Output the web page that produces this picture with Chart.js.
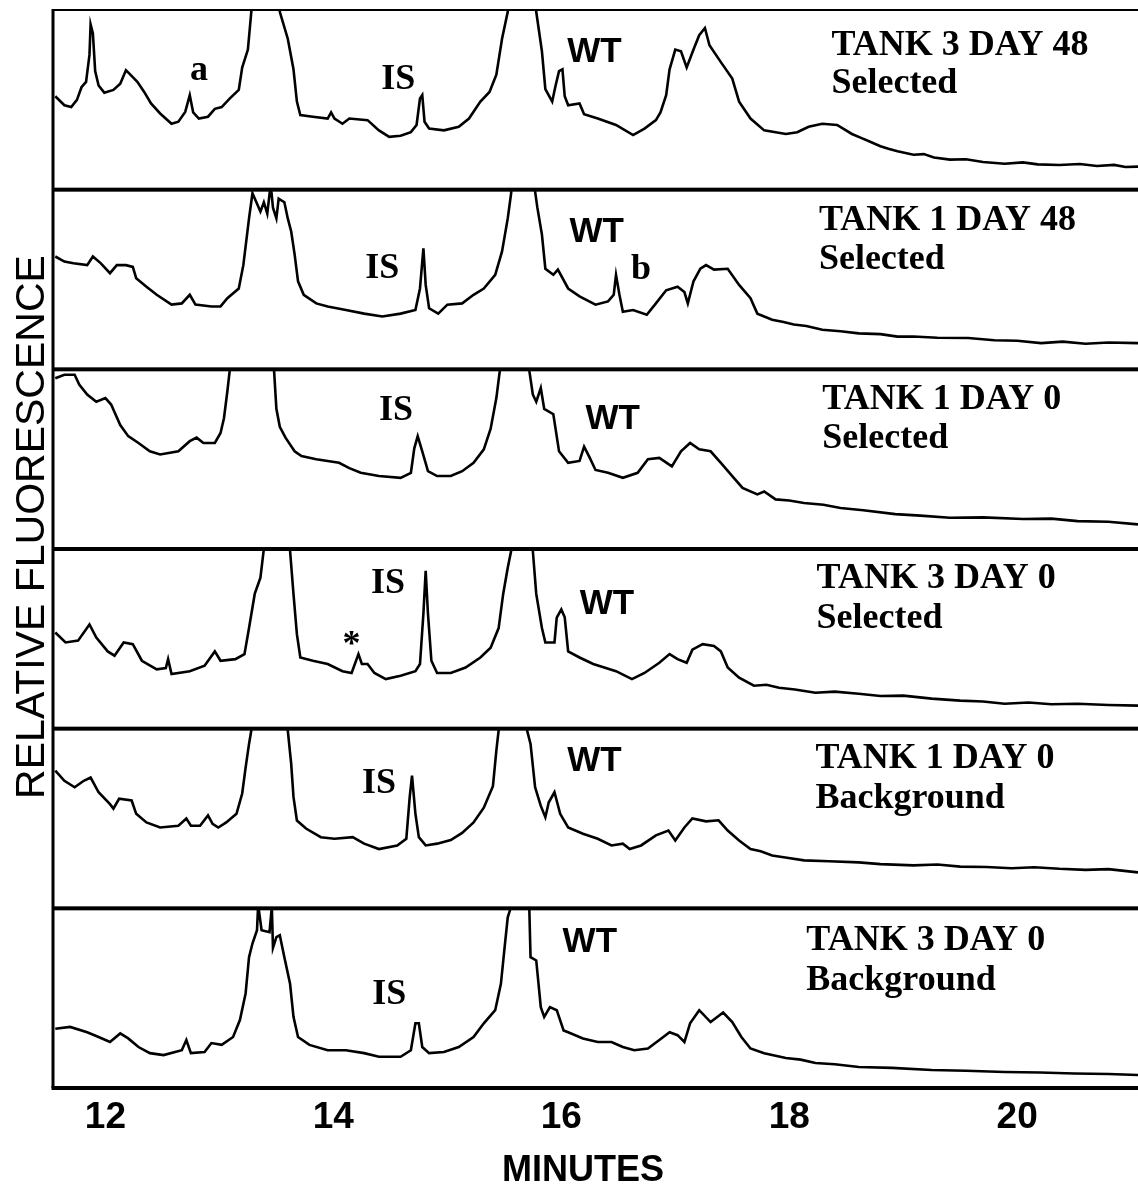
<!DOCTYPE html>
<html>
<head>
<meta charset="utf-8">
<title>Relative fluorescence chromatograms</title>
<script src="https://cdn.jsdelivr.net/npm/chart.js@4.4.1/dist/chart.umd.min.js"></script>
<style>
  html, body { margin: 0; padding: 0; background: #fff; }
  #chart-box { position: relative; width: 1138px; height: 1186px; }
</style>
</head>
<body>
<div id="chart-box"><canvas id="traces" width="1138" height="1186"></canvas></div>
<script>
// Time axis, minutes
const xMin = 11.54;
const xMax = 21.06;
const xTicks = [12, 14, 16, 18, 20];

// Panel captions, top to bottom
const panelTitles = ['TANK 3 DAY 48', 'TANK 1 DAY 48', 'TANK 1 DAY 0', 'TANK 3 DAY 0', 'TANK 1 DAY 0', 'TANK 3 DAY 0'];
const panelSubtitles = ['Selected', 'Selected', 'Selected', 'Selected', 'Background', 'Background'];
const titleStart = [18.37, 18.26, 18.29, 18.24, 18.23, 18.15];   // minutes (left edge of caption)
const titleLine1 = [75, 77.8, 77.8, 78.3, 78.3, 76.7];              // baseline, panel units
const titleLine2 = [54, 56, 56, 56, 56, 54.4];

// Chromatograms: [minutes, relative fluorescence], each panel scaled 0-100
const tank3Day48Selected = [
  [11.56, 52], [11.64, 47], [11.70, 46], [11.75, 50], [11.79, 57], [11.83, 60], [11.86, 75], [11.87, 92],
  [11.89, 87], [11.91, 66], [11.94, 58], [11.99, 54], [12.07, 55.5], [12.13, 59], [12.18, 66.5], [12.21, 64.6],
  [12.28, 60], [12.34, 54.4], [12.40, 48], [12.48, 42.4], [12.58, 36.7], [12.64, 37.8], [12.70, 43.3], [12.74, 52.6],
  [12.77, 43], [12.82, 39.6], [12.90, 40.6], [12.96, 45], [13.02, 46], [13.09, 50.7], [13.17, 55.5], [13.20, 68],
  [13.25, 78], [13.28, 99], [13.40, 400], [13.53, 99], [13.60, 84], [13.65, 67], [13.68, 49], [13.71, 41.5],
  [13.82, 40.6], [13.95, 39.6], [13.98, 43], [14.01, 39.6], [14.08, 36.7], [14.14, 39.6], [14.30, 38.7], [14.40, 33],
  [14.49, 29.4], [14.59, 30], [14.68, 32], [14.73, 36], [14.76, 50.7], [14.78, 52.6], [14.80, 37.8], [14.84, 34],
  [14.97, 33], [15.10, 35], [15.19, 39.6], [15.29, 49], [15.37, 54.4], [15.43, 64], [15.48, 84], [15.53, 99],
  [15.65, 400], [15.78, 99], [15.83, 77], [15.86, 56], [15.92, 49], [15.95, 58], [15.98, 66], [16.01, 67],
  [16.03, 52], [16.06, 47], [16.16, 48], [16.20, 42], [16.32, 39.6], [16.48, 36], [16.63, 30.4], [16.73, 34],
  [16.83, 38.7], [16.87, 43], [16.92, 52.6], [16.95, 67], [17.00, 78], [17.05, 77], [17.10, 68], [17.16, 78],
  [17.21, 86], [17.26, 90], [17.30, 80.4], [17.40, 71], [17.50, 61.8], [17.56, 49], [17.66, 39.6], [17.78, 33],
  [17.97, 31], [18.07, 32], [18.17, 35], [18.29, 36.7], [18.42, 36], [18.55, 31], [18.63, 28.8], [18.71, 26.7],
  [18.80, 24.2], [18.87, 22.8], [18.95, 21.4], [19.09, 19.4], [19.18, 19.8], [19.27, 17.9], [19.41, 16.7], [19.55, 16.9],
  [19.70, 15.4], [19.89, 14.4], [20.05, 15.2], [20.18, 14.1], [20.37, 13.7], [20.55, 14.3], [20.70, 13.2], [20.85, 13.8],
  [20.95, 12.6], [21.06, 12.8]
];

const tank1Day48Selected = [
  [11.56, 62.8], [11.64, 60], [11.72, 59], [11.84, 58], [11.89, 62.8], [11.96, 59], [12.04, 53.5], [12.10, 58],
  [12.18, 58], [12.24, 57], [12.27, 50.7], [12.36, 46], [12.45, 41.5], [12.58, 36], [12.67, 36.7], [12.74, 41.5],
  [12.79, 36], [12.93, 35], [13.01, 35], [13.07, 39.6], [13.17, 45], [13.21, 58], [13.26, 84], [13.29, 98],
  [13.36, 87.8], [13.39, 93], [13.42, 86.7], [13.45, 103], [13.47, 90], [13.50, 84], [13.52, 95], [13.57, 93],
  [13.60, 84], [13.63, 76.7], [13.66, 64], [13.69, 49], [13.74, 41.5], [13.85, 36.7], [13.95, 35], [14.11, 33],
  [14.27, 31], [14.43, 29.4], [14.59, 31], [14.72, 33], [14.76, 45], [14.79, 67.4], [14.81, 47], [14.84, 34],
  [14.92, 31], [15.00, 36], [15.13, 36.7], [15.23, 41.5], [15.32, 45], [15.42, 52.6], [15.48, 65.6], [15.53, 84],
  [15.56, 98], [15.66, 400], [15.77, 99], [15.79, 90], [15.83, 75], [15.86, 56], [15.93, 52.6], [15.97, 55.5],
  [16.06, 45], [16.16, 40.6], [16.30, 36], [16.41, 37.8], [16.46, 41.5], [16.48, 52.6], [16.51, 41.5], [16.54, 32],
  [16.63, 33], [16.75, 30.4], [16.83, 36.7], [16.92, 44], [17.02, 46], [17.08, 43], [17.11, 36.7], [17.16, 49],
  [17.22, 56], [17.27, 58], [17.34, 55.5], [17.46, 56], [17.56, 47], [17.66, 39.6], [17.72, 31], [17.85, 27.6],
  [17.95, 26.4], [18.04, 25], [18.15, 24.1], [18.29, 22], [18.45, 21.2], [18.61, 20], [18.80, 19.6], [18.95, 18.2],
  [19.09, 18.3], [19.30, 17.6], [19.57, 17.4], [19.80, 16.2], [20.00, 15.9], [20.21, 14.6], [20.40, 15.4], [20.60, 14.2],
  [20.80, 14.9], [21.06, 14.6]
];

const tank1Day0Selected = [
  [11.56, 95], [11.64, 97], [11.73, 97], [11.77, 91.5], [11.84, 86], [11.92, 82], [12.00, 84], [12.05, 80.4],
  [12.13, 69], [12.20, 62.8], [12.29, 59], [12.39, 54.4], [12.48, 52.6], [12.64, 54.4], [12.74, 60], [12.80, 62],
  [12.86, 59], [12.96, 59], [13.01, 64.6], [13.04, 72.8], [13.07, 87.8], [13.09, 99], [13.28, 400], [13.48, 99],
  [13.50, 78], [13.53, 68], [13.58, 62], [13.66, 54.4], [13.72, 51.7], [13.85, 50], [14.05, 48], [14.14, 45],
  [14.24, 42.4], [14.40, 40.6], [14.59, 39.6], [14.68, 42.4], [14.71, 56], [14.74, 62.8], [14.78, 54.4], [14.83, 43.3],
  [14.91, 40.6], [15.03, 40.6], [15.13, 43.3], [15.23, 48], [15.32, 55.5], [15.38, 67], [15.43, 84], [15.46, 99],
  [15.59, 400], [15.72, 99], [15.75, 86], [15.78, 82], [15.82, 89.6], [15.85, 78], [15.93, 75], [15.98, 54.4],
  [16.06, 48], [16.16, 49], [16.20, 57], [16.25, 50.7], [16.30, 44], [16.41, 42.4], [16.54, 39.6], [16.67, 42.4],
  [16.76, 50], [16.86, 50.7], [16.97, 46], [17.05, 54.4], [17.13, 59], [17.21, 55.5], [17.31, 54.4], [17.40, 48],
  [17.50, 40.6], [17.59, 34], [17.72, 30.4], [17.78, 32], [17.88, 27.6], [18.00, 27], [18.13, 25.6], [18.30, 24.6],
  [18.45, 22.8], [18.65, 21.6], [18.93, 19.4], [19.15, 18.6], [19.41, 17.4], [19.70, 17.6], [20.05, 16.7], [20.30, 16.9],
  [20.53, 15.5], [20.80, 15.2], [21.06, 13.7]
];

const tank3Day0Selected = [
  [11.56, 53.5], [11.65, 48], [11.76, 49], [11.86, 58], [11.92, 50.7], [12.02, 43], [12.08, 40.6], [12.16, 48],
  [12.24, 47], [12.32, 37.8], [12.45, 33], [12.53, 33.7], [12.55, 38.7], [12.58, 30.4], [12.74, 32], [12.87, 35],
  [12.96, 43], [13.01, 37.8], [13.14, 38.7], [13.22, 41.5], [13.26, 56], [13.31, 75], [13.36, 84], [13.39, 100],
  [13.50, 400], [13.62, 99], [13.65, 75], [13.68, 52.6], [13.71, 39.6], [13.82, 37.8], [13.95, 36], [14.08, 32],
  [14.16, 31], [14.22, 41.5], [14.25, 36], [14.30, 36], [14.36, 31], [14.46, 27.6], [14.59, 29.4], [14.72, 32],
  [14.76, 36], [14.79, 64], [14.81, 87.8], [14.83, 64], [14.86, 37.8], [14.91, 31], [15.03, 31], [15.16, 34],
  [15.29, 39.6], [15.38, 45], [15.45, 56], [15.49, 75], [15.53, 89.6], [15.56, 99], [15.66, 400], [15.75, 99],
  [15.78, 75], [15.83, 56], [15.86, 48], [15.94, 48], [15.96, 61.8], [16.00, 66.4], [16.03, 62], [16.06, 43],
  [16.16, 39.6], [16.28, 36], [16.48, 32], [16.62, 27.6], [16.73, 31], [16.86, 36.7], [16.95, 41.5], [17.02, 38.7],
  [17.10, 36.7], [17.15, 44], [17.24, 47], [17.34, 46], [17.40, 43], [17.46, 34], [17.56, 28.4], [17.69, 23.9],
  [17.80, 24.4], [17.91, 22.8], [18.05, 21.8], [18.23, 20], [18.40, 20.6], [18.61, 19.4], [18.80, 18.2], [19.00, 18.4],
  [19.25, 16.7], [19.50, 15.6], [19.70, 15.1], [19.89, 13.9], [20.10, 14.6], [20.30, 13.6], [20.53, 13.9], [20.80, 13.2],
  [21.06, 12.8]
];

const tank1Day0Background = [
  [11.56, 76.7], [11.64, 71], [11.73, 67.4], [11.81, 71], [11.87, 72.8], [11.94, 64.6], [12.04, 58], [12.07, 55.5],
  [12.12, 61], [12.23, 60], [12.27, 52.6], [12.36, 47.8], [12.48, 45], [12.64, 46], [12.71, 50], [12.75, 46],
  [12.83, 46], [12.90, 51.7], [12.94, 47], [12.99, 45], [13.06, 47.8], [13.15, 52.6], [13.20, 63.9], [13.23, 78.3],
  [13.26, 91.5], [13.28, 99], [13.44, 400], [13.60, 99], [13.63, 80.4], [13.65, 62], [13.68, 48.9], [13.76, 44.4],
  [13.89, 39.6], [14.01, 38.7], [14.17, 39.6], [14.27, 36], [14.40, 33], [14.56, 35], [14.64, 38.7], [14.67, 62],
  [14.69, 73.9], [14.72, 52.6], [14.75, 39.6], [14.81, 35], [14.91, 36], [15.03, 38], [15.13, 42], [15.23, 47.8],
  [15.32, 56], [15.40, 68], [15.43, 87.8], [15.45, 99], [15.58, 400], [15.70, 99], [15.73, 91.5], [15.77, 67.4],
  [15.82, 57], [15.86, 50.7], [15.89, 59], [15.94, 64.6], [15.99, 52.6], [16.06, 45], [16.19, 41.5], [16.32, 38.7],
  [16.44, 35], [16.54, 36], [16.60, 33], [16.70, 35], [16.83, 40.6], [16.94, 43.3], [17.00, 37.8], [17.08, 45],
  [17.15, 50], [17.27, 48.4], [17.38, 49], [17.46, 43.3], [17.56, 37.8], [17.66, 33], [17.75, 31.8], [17.85, 29.4],
  [17.98, 28.2], [18.13, 26.7], [18.35, 26.2], [18.61, 25.6], [18.80, 24.6], [19.09, 23.9], [19.30, 24.4], [19.50, 23.2],
  [19.73, 23], [19.95, 22.3], [20.15, 22.9], [20.37, 22], [20.60, 21.4], [20.80, 21.8], [21.06, 20]
];

const tank3Day0Background = [
  [11.56, 33], [11.69, 34], [11.84, 31], [11.94, 28.4], [12.04, 25.6], [12.13, 30.4], [12.20, 27.6], [12.29, 22.8],
  [12.39, 19.4], [12.51, 18.3], [12.67, 21], [12.71, 26.7], [12.75, 19.4], [12.87, 20], [12.93, 25], [13.02, 24],
  [13.12, 28.4], [13.18, 37.8], [13.23, 52.6], [13.26, 72.8], [13.29, 80.4], [13.33, 87.8], [13.34, 102], [13.37, 87.8],
  [13.44, 86.7], [13.46, 101], [13.47, 78], [13.50, 84], [13.53, 85], [13.57, 72.8], [13.62, 58], [13.65, 39.6],
  [13.69, 28.4], [13.79, 24], [13.95, 21], [14.11, 21], [14.27, 19.4], [14.40, 17.4], [14.59, 17.4], [14.68, 21],
  [14.72, 36], [14.75, 36], [14.78, 22.8], [14.84, 19.4], [14.97, 20], [15.10, 22.8], [15.23, 28.4], [15.32, 36],
  [15.42, 43.3], [15.47, 58], [15.50, 76.7], [15.53, 95], [15.55, 99], [15.64, 400], [15.72, 98], [15.73, 72.8],
  [15.78, 71], [15.82, 45], [15.85, 39.6], [15.90, 45], [15.96, 43.3], [16.02, 32], [16.06, 31], [16.19, 27.6],
  [16.32, 25.6], [16.44, 25.6], [16.54, 22.8], [16.64, 21], [16.76, 22], [16.86, 26.7], [16.95, 31], [17.02, 29.4],
  [17.08, 25.6], [17.13, 36], [17.21, 43.3], [17.31, 36.7], [17.42, 42], [17.50, 36.7], [17.58, 28.4], [17.66, 22],
  [17.78, 19.4], [17.97, 16.7], [18.10, 15.8], [18.23, 13.9], [18.40, 13.2], [18.61, 11.7], [18.90, 11.2], [19.25, 10],
  [19.55, 9.6], [19.89, 8.9], [20.20, 8.6], [20.50, 8.1], [20.80, 7.8], [21.06, 7.2]
];

const traces = [tank3Day48Selected, tank1Day48Selected, tank1Day0Selected,
                tank3Day0Selected, tank1Day0Background, tank3Day0Background];

// Peak annotations: [panel, text, minutes, baseline value, face]
const peakLabels = [
  [0, 'a', 12.82, 61, 'serif'],
  [0, 'IS', 14.57, 56, 'serif'],
  [0, 'WT', 16.29, 71, 'sans'],
  [1, 'IS', 14.43, 50.6, 'serif'],
  [1, 'WT', 16.31, 71, 'sans'],
  [1, 'b', 16.70, 50.5, 'serif'],
  [2, 'IS', 14.55, 72, 'serif'],
  [2, 'WT', 16.45, 67, 'sans'],
  [3, 'IS', 14.48, 75.6, 'serif'],
  [3, '*', 14.16, 41, 'serif'],
  [3, 'WT', 16.40, 64, 'sans'],
  [4, 'IS', 14.40, 64, 'serif'],
  [4, 'WT', 16.29, 76.7, 'sans'],
  [5, 'IS', 14.49, 47, 'serif'],
  [5, 'WT', 16.25, 75.6, 'sans']
];

const SERIF = '"Liberation Serif", "Times New Roman", serif';
const SANS = '"Liberation Sans", Arial, Helvetica, sans-serif';

// Clip every trace to its own panel, then draw the frame and the text
const panelPlugin = {
  id: 'panelPlugin',
  beforeDatasetDraw(chart, args) {
    const y = chart.scales['y' + args.index];
    const area = chart.chartArea;
    const ctx = chart.ctx;
    ctx.save();
    ctx.beginPath();
    ctx.rect(area.left, y.top, area.right - area.left, y.bottom - y.top);
    ctx.clip();
  },
  afterDatasetDraw(chart) {
    chart.ctx.restore();
  },
  afterDatasetsDraw(chart) {
    const ctx = chart.ctx;
    const area = chart.chartArea;
    const x = chart.scales.x;
    ctx.save();
    ctx.fillStyle = '#000';

    // frame: thin top rule, heavy panel separators, bottom axis, left axis
    ctx.fillRect(area.left, area.top - 1, area.right - area.left, 2);
    traces.forEach((_, i) => {
      const yt = chart.scales['y' + i].top;
      if (yt > area.top + 2) ctx.fillRect(area.left, yt - 2, area.right - area.left, 4);
    });
    ctx.fillRect(area.left - 1.5, area.bottom - 2, area.right - area.left + 1.5, 4);
    ctx.fillRect(area.left - 1.5, area.top - 1, 3, area.bottom - area.top + 1);

    // panel captions
    ctx.textAlign = 'left';
    ctx.textBaseline = 'alphabetic';
    ctx.font = 'bold 36px ' + SERIF;
    panelTitles.forEach((t, i) => {
      const y = chart.scales['y' + i];
      const px = x.getPixelForValue(titleStart[i]);
      ctx.fillText(t, px, y.getPixelForValue(titleLine1[i]));
      ctx.fillText(panelSubtitles[i], px, y.getPixelForValue(titleLine2[i]));
    });

    // peak labels
    ctx.textAlign = 'center';
    peakLabels.forEach(([panel, text, t, v, face]) => {
      ctx.font = face === 'sans' ? 'bold 35px ' + SANS : 'bold 36px ' + SERIF;
      ctx.fillText(text, x.getPixelForValue(t), chart.scales['y' + panel].getPixelForValue(v));
    });

    // axis titles
    ctx.font = 'bold 36px ' + SANS;
    ctx.fillText('MINUTES', 583, 1181);
    ctx.translate(44, 527);
    ctx.rotate(-Math.PI / 2);
    ctx.font = '41px ' + SANS;
    ctx.fillText('RELATIVE FLUORESCENCE', 0, 0);
    ctx.restore();
  }
};

// Stacked panel axes; the layout stacks them bottom-up in creation order,
// so the last panel is created first
const yScales = {};
for (let i = traces.length - 1; i >= 0; i--) {
  yScales['y' + i] = {
    type: 'linear',
    position: 'left',
    stack: 'panels',
    stackWeight: 1,
    min: 0,
    max: 100,
    ticks: { display: false },
    grid: { display: false },
    border: { display: false },
    afterFit(scale) { scale.width = 53; }
  };
}

new Chart(document.getElementById('traces'), {
  type: 'line',
  data: {
    datasets: traces.map((trace, i) => ({
      data: trace,
      yAxisID: 'y' + i,
      borderColor: '#000',
      borderWidth: 2.6,
      borderJoinStyle: 'miter',
      pointRadius: 0,
      tension: 0,
      fill: false
    }))
  },
  options: {
    responsive: false,
    animation: false,
    layout: { padding: { top: 10, left: 0, right: 0, bottom: 0 } },
    plugins: { legend: { display: false }, tooltip: { enabled: false } },
    scales: {
      x: {
        type: 'linear',
        min: xMin,
        max: xMax,
        grid: { display: false },
        border: { display: false },
        ticks: {
          color: '#000',
          padding: 0,
          font: { family: SANS, size: 37, weight: 'bold' }
        },
        afterBuildTicks(scale) { scale.ticks = xTicks.map(v => ({ value: v })); },
        afterFit(scale) { scale.height = 98; }
      },
      ...yScales
    }
  },
  plugins: [panelPlugin]
});
</script>
</body>
</html>
